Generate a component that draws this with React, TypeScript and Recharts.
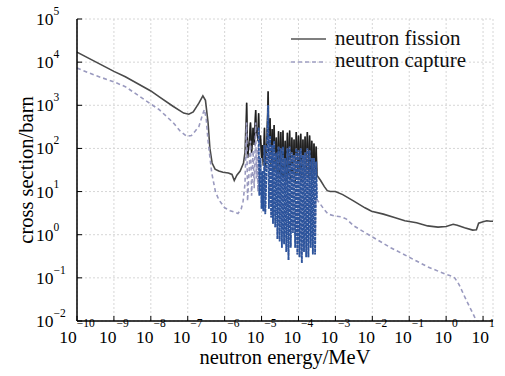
import React from 'react';
import { LineChart, Line, XAxis, YAxis, CartesianGrid, Legend } from 'recharts';

// energies in MeV, cross sections in barn
const fissionThermalE = [1e-10, 1e-9, 2.04e-9, 1e-8, 1.66e-8, 3.98e-8, 7.76e-8, 1.07e-7, 1.41e-7, 2.0e-7, 2.57e-7, 3.02e-7, 3.55e-7, 3.98e-7, 4.57e-7, 5.5e-7, 6.92e-7, 9.0e-7, 1.26e-6, 1.58e-6, 1.82e-6, 2.14e-6, 2.63e-6, 3.24e-6, 3.55e-6, 3.94e-6];
const fissionThermalXs = [17000, 6100, 4570, 2150, 1580, 950, 660, 620, 700, 1120, 1660, 1300, 400, 100, 46, 33, 30, 28, 27, 25, 18, 24, 30, 46, 80, 1150];

const fissionResE = [3.94e-6, 4.17e-6, 4.68e-6, 5.01e-6, 5.37e-6, 5.89e-6, 6.31e-6, 6.92e-6, 7.24e-6, 7.59e-6, 7.94e-6, 8.32e-6, 8.71e-6, 9.33e-6, 1.0e-5, 1.05e-5, 1.12e-5, 1.2e-5, 1.26e-5, 1.41e-5, 1.51e-5, 1.58e-5, 1.7e-5, 1.82e-5, 1.95e-5, 2.04e-5, 2.19e-5, 2.34e-5, 2.51e-5, 2.69e-5, 2.88e-5, 3.09e-5, 3.31e-5, 3.55e-5, 3.8e-5, 4.07e-5, 4.37e-5, 4.68e-5, 5.01e-5, 5.37e-5, 5.75e-5, 6.17e-5, 6.61e-5, 7.08e-5, 7.59e-5, 8.13e-5, 8.71e-5, 9.33e-5, 1.0e-4, 1.07e-4, 1.15e-4, 1.23e-4, 1.32e-4, 1.41e-4, 1.51e-4, 1.62e-4, 1.74e-4, 1.86e-4, 2.0e-4, 2.14e-4, 2.29e-4, 2.45e-4, 2.63e-4, 2.82e-4, 3.02e-4, 3.16e-4];
const fissionResXs = [1150, 60, 150, 400, 80, 300, 120, 780, 200, 300, 150, 650, 120, 200, 60, 120, 40, 300, 30, 200, 2100, 60, 500, 40, 280, 25, 350, 30, 180, 20, 250, 20, 240, 18, 260, 20, 150, 15, 230, 20, 260, 15, 180, 20, 160, 15, 240, 25, 200, 20, 220, 18, 160, 20, 190, 25, 240, 20, 200, 25, 150, 20, 130, 25, 110, 24];

const fissionFastE = [3.16e-4, 3.98e-4, 5.01e-4, 6.03e-4, 7.24e-4, 1e-3, 1.58e-3, 3.16e-3, 6.31e-3, 9.55e-3, 2.0e-2, 3.98e-2, 7.59e-2, 0.158, 0.316, 0.603, 1.0, 1.55, 2.0, 3.16, 5.25, 6.61, 7.59, 10, 12.6, 15.8, 18.6];
const fissionFastXs = [24, 18, 13, 10.5, 10, 10, 8.5, 6, 4.2, 3.5, 3.0, 2.5, 2.1, 1.9, 1.6, 1.5, 1.55, 1.75, 1.65, 1.45, 1.28, 1.3, 1.85, 2.0, 2.1, 2.05, 2.05];

const captureThermalE = [1e-10, 3.16e-10, 1e-9, 2.04e-9, 1e-8, 1.66e-8, 3.98e-8, 6.31e-8, 9.55e-8, 1.26e-7, 1.58e-7, 2.0e-7, 2.51e-7, 2.82e-7, 3.16e-7, 3.55e-7, 4.47e-7, 5.62e-7, 6.92e-7, 1.0e-6, 1.41e-6, 1.91e-6, 2.29e-6, 2.82e-6, 3.16e-6, 3.55e-6];
const captureThermalXs = [7300, 4900, 3500, 2700, 1070, 800, 400, 250, 190, 200, 250, 320, 600, 800, 500, 150, 27, 10, 6.5, 4.2, 3.6, 3.3, 3.1, 4, 6, 15];

const captureResE = [3.55e-6, 3.94e-6, 4.17e-6, 4.68e-6, 5.01e-6, 5.37e-6, 5.89e-6, 6.31e-6, 6.92e-6, 7.24e-6, 7.59e-6, 7.94e-6, 8.32e-6, 8.71e-6, 9.33e-6, 1.0e-5, 1.05e-5, 1.12e-5, 1.2e-5, 1.26e-5, 1.41e-5, 1.51e-5, 1.58e-5, 1.7e-5, 1.82e-5, 1.95e-5, 2.04e-5, 2.19e-5, 2.34e-5, 2.51e-5, 2.69e-5, 2.88e-5, 3.09e-5, 3.31e-5, 3.55e-5, 3.8e-5, 4.07e-5, 4.37e-5, 4.68e-5, 5.01e-5, 5.37e-5, 5.75e-5, 6.17e-5, 6.61e-5, 7.08e-5, 7.59e-5, 8.13e-5, 8.71e-5, 9.33e-5, 1.0e-4, 1.07e-4, 1.15e-4, 1.23e-4, 1.32e-4, 1.41e-4, 1.51e-4, 1.62e-4, 1.74e-4, 1.86e-4, 2.0e-4, 2.14e-4, 2.29e-4, 2.45e-4, 2.63e-4, 2.82e-4, 3.02e-4, 3.16e-4];
const captureResXs = [15, 400, 6, 40, 150, 8, 90, 12, 400, 20, 100, 10, 300, 8, 60, 4, 30, 3.5, 120, 3, 80, 1000, 4, 200, 2.5, 120, 1.8, 150, 1.5, 80, 0.8, 110, 0.7, 100, 0.5, 110, 0.6, 60, 0.4, 100, 0.26, 110, 0.5, 80, 1.1, 70, 0.5, 100, 0.35, 90, 0.3, 100, 0.22, 70, 0.4, 80, 0.3, 100, 0.3, 90, 0.5, 60, 0.35, 60, 0.35, 50, 6.5];

const captureFastE = [3.16e-4, 3.98e-4, 5.01e-4, 6.31e-4, 1e-3, 1.48e-3, 2.0e-3, 3.16e-3, 7.94e-3, 3.16e-2, 9.33e-2, 0.316, 1.0, 1.38, 1.7, 2.24, 3.16, 4.47, 5.75, 7.08];
const captureFastXs = [6.5, 5, 3.8, 3.0, 2.7, 2.6, 2.3, 1.6, 1.0, 0.5, 0.31, 0.18, 0.12, 0.11, 0.1, 0.07, 0.037, 0.02, 0.013, 0.0085];

const xTicks = [1e-10, 1e-9, 1e-8, 1e-7, 1e-6, 1e-5, 1e-4, 1e-3, 1e-2, 1e-1, 1, 10];
const yTicks = [1e-2, 1e-1, 1, 10, 100, 1000, 10000, 100000];

const zip = (es: number[], vs: number[]) => es.map((e, i) => ({ e, v: vs[i] }));
const fissionData = zip([...fissionThermalE, ...fissionResE.slice(1), ...fissionFastE.slice(1)], [...fissionThermalXs, ...fissionResXs.slice(1), ...fissionFastXs.slice(1)]);
const fissionRes = zip(fissionResE, fissionResXs);
const captureData = zip([...captureThermalE, ...captureResE.slice(1), ...captureFastE.slice(1)], [...captureThermalXs, ...captureResXs.slice(1), ...captureFastXs.slice(1)]);
const captureRes = zip(captureResE.slice(12), captureResXs.slice(12));

const FONT = "'Liberation Serif', 'DejaVu Serif', serif";
const txt = (size: number): React.CSSProperties => ({ fontFamily: FONT, fontSize: size });

const expText = (v: number) => {
  const ex = Math.round(Math.log10(v));
  return ex < 0 ? '\u2212' + String(-ex) : String(ex);
};

const XTick = (props: any) => {
  const { x, y, payload } = props;
  return (
    <g>
      <line x1={x} x2={x} y1={y} y2={y - 5} stroke="#000" strokeWidth={1} />
      <text x={x} y={y + 22} textAnchor="middle" style={txt(17.5)} fill="#000">
        10<tspan style={txt(11.5)} dy={-16}>{expText(payload.value)}</tspan>
      </text>
    </g>
  );
};

const TopTick = (props: any) => {
  const { x, y } = props;
  return <line x1={x} x2={x} y1={y} y2={y + 5} stroke="#000" strokeWidth={1} />;
};

const YTick = (props: any) => {
  const { x, y, payload } = props;
  return (
    <g>
      <line x1={x} x2={x + 5} y1={y} y2={y} stroke="#000" strokeWidth={1} />
      <text x={36} y={y + 6} textAnchor="start" style={txt(17.5)} fill="#000">
        10<tspan style={txt(11.5)} dy={-10}>{expText(payload.value)}</tspan>
      </text>
    </g>
  );
};

const RightTick = (props: any) => {
  const { x, y } = props;
  return <line x1={x} x2={x - 5} y1={y} y2={y} stroke="#000" strokeWidth={1} />;
};

const renderLegend = () => (
  <svg width={220} height={60} style={{ display: 'block' }}>
    <line x1={6} x2={41} y1={14} y2={14} stroke="#555" strokeWidth={1.6} />
    <text x={50} y={20} style={txt(21)} fill="#111">neutron fission</text>
    <line x1={6} x2={41} y1={37} y2={37} stroke="#a0a0c4" strokeWidth={1.6} strokeDasharray="4 3" />
    <text x={50} y={42} style={txt(21)} fill="#111">neutron capture</text>
  </svg>
);

export default function App() {
  return (
    <div style={{ position: 'absolute', left: 0, top: 0, background: '#fff' }}>
      <LineChart width={505} height={376} margin={{ top: 19, right: 12, bottom: 0, left: 0 }}>
        <CartesianGrid xAxisId="b" yAxisId="l" stroke="#d6d6d6" strokeDasharray="2 2" />
        <XAxis
          xAxisId="b"
          dataKey="e"
          type="number"
          scale="log"
          domain={[1e-10, 18.6]}
          ticks={xTicks}
          allowDataOverflow
          height={55}
          tickSize={0}
          tickMargin={0}
          tickLine={false}
          axisLine={{ stroke: '#000', strokeWidth: 1.5 }}
          tick={<XTick />}
          interval={0}
          label={(p: any) => (
            <text x={285} y={364} textAnchor="middle" style={txt(20.5)} fill="#000">
              neutron energy/MeV
            </text>
          )}
        />
        <XAxis
          xAxisId="t"
          orientation="top"
          dataKey="e"
          type="number"
          scale="log"
          domain={[1e-10, 18.6]}
          ticks={xTicks}
          allowDataOverflow
          height={0}
          tickSize={0}
          tickMargin={0}
          tickLine={false}
          axisLine={{ stroke: '#000', strokeWidth: 1.5 }}
          tick={<TopTick />}
          interval={0}
        />
        <YAxis
          yAxisId="l"
          type="number"
          scale="log"
          domain={[0.01, 100000]}
          ticks={yTicks}
          allowDataOverflow
          width={77}
          tickSize={0}
          tickMargin={0}
          tickLine={false}
          axisLine={{ stroke: '#000', strokeWidth: 1.5 }}
          tick={<YTick />}
          interval={0}
          label={(p: any) => (
            <text x={33} y={170} transform="rotate(-90 33 170)" textAnchor="middle" style={txt(20.5)} fill="#000">
              cross section/barn
            </text>
          )}
        />
        <YAxis
          yAxisId="r"
          orientation="right"
          type="number"
          scale="log"
          domain={[0.01, 100000]}
          ticks={yTicks}
          allowDataOverflow
          width={0}
          tickSize={0}
          tickMargin={0}
          tickLine={false}
          axisLine={{ stroke: '#000', strokeWidth: 1.5 }}
          tick={<RightTick />}
          interval={0}
        />
        <Legend
          layout="vertical"
          align="center"
          verticalAlign="middle"
          content={renderLegend}
          wrapperStyle={{ left: 285, top: 25, width: 220, height: 60 }}
        />
        <Line xAxisId="b" yAxisId="l" data={fissionData} dataKey="v" type="linear" stroke="#4a4a4a" strokeWidth={1.6} dot={false} isAnimationActive={false} name="neutron fission" />
        <Line xAxisId="b" yAxisId="l" data={fissionRes} dataKey="v" type="linear" stroke="#1e1e1e" strokeWidth={1.2} dot={false} isAnimationActive={false} legendType="none" />
        <Line xAxisId="b" yAxisId="l" data={captureData} dataKey="v" type="linear" stroke="#9a9abf" strokeWidth={1.6} strokeDasharray="4 3" dot={false} isAnimationActive={false} name="neutron capture" />
        <Line xAxisId="b" yAxisId="l" data={captureRes} dataKey="v" type="linear" stroke="#2c549c" strokeWidth={1.8} strokeDasharray="3 1" dot={false} isAnimationActive={false} legendType="none" />
      </LineChart>
    </div>
  );
}
